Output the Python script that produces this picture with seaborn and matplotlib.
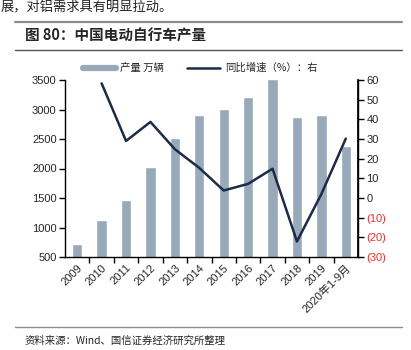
import matplotlib
matplotlib.use("Agg")
import matplotlib.pyplot as plt
from matplotlib.lines import Line2D
import seaborn as sns
import pandas as pd
import numpy as np

years = ["2009", "2010", "2011", "2012", "2013", "2014", "2015", "2016",
         "2017", "2018", "2019", "2020年1-9月"]
output = [720, 1135, 1460, 2030, 2525, 2905, 3005, 3210, 3520, 2865, 2905, 2380]
growth = [np.nan, 58.3, 29.0, 38.7, 24.8, 15.3, 3.8, 7.2, 14.9, -22.1, 2.0, 30.2]
left_ticks = [500, 1000, 1500, 2000, 2500, 3000, 3500]
right_ticks = [-30, -20, -10, 0, 10, 20, 30, 40, 50, 60]

sns.set_theme(style="white")
plt.rcParams['font.family'] = ['Liberation Sans', 'Noto Sans CJK SC', 'DejaVu Sans']

BAR = "#98aab9"
LINE = "#1c2b47"
GRAY = "#8c8c8c"

df = pd.DataFrame({"year": years, "output": output, "growth": growth,
                   "pos": np.arange(len(years))})

fig = plt.figure(figsize=(4.11, 3.5), dpi=100)
ax = fig.add_axes([65/411, 1-257/350, (358-65)/411, (257-80)/350])

sns.barplot(data=df, x="year", y="output", color=BAR, width=0.42,
            saturation=1, ax=ax)
ax.set_ylim(500, 3500)
ax.set_xlim(-0.5, len(years)-0.5)
ax.set_yticks(left_ticks)
ax.set_yticklabels([str(t) for t in left_ticks], fontsize=8)
ax.set_xlabel("")
ax.set_ylabel("")
# category labels at centers, tick marks between categories
ax.set_xticks(np.arange(len(years)))
ax.set_xticklabels(years, rotation=45, ha="right", rotation_mode="anchor",
                   fontsize=8)
ax.tick_params(axis="x", which="major", length=0, pad=4)
ax.set_xticks(np.arange(len(years)-1)+0.5, minor=True)
ax.tick_params(axis="x", which="minor", length=4, width=1, color="black",
               direction="out", bottom=True)
ax.tick_params(axis="y", length=4, width=1, color="black", direction="out",
               left=True, pad=2)
ax.spines["top"].set_visible(False)
for s in ["left", "bottom", "right"]:
    ax.spines[s].set_color("black")
    ax.spines[s].set_linewidth(1)

ax2 = ax.twinx()
sns.lineplot(data=df, x="pos", y="growth", color=LINE, linewidth=1.8,
             ax=ax2, sort=False)
ax2.set_ylim(-30, 60)
ax2.set_xlim(-0.5, len(years)-0.5)
ax2.set_yticks(right_ticks)
labs = [f"({abs(t)})" if t < 0 else str(t) for t in right_ticks]
ax2.set_yticklabels(labs, fontsize=8)
for lab, t in zip(ax2.get_yticklabels(), right_ticks):
    if t < 0:
        lab.set_color("#e8302a")
ax2.tick_params(axis="y", length=4, width=1, color="black", direction="out",
                right=True, pad=2)
ax2.set_xlabel("")
ax2.set_ylabel("")
ax2.spines["top"].set_visible(False)
ax2.spines["right"].set_color("black")
ax2.spines["left"].set_visible(False)
ax2.spines["bottom"].set_visible(False)

handles = [Line2D([], [], color=BAR, lw=4.5),
           Line2D([], [], color=LINE, lw=1.8)]
fig.legend(handles, ["产量 万辆", "同比增速（%）：右"],
           loc="center", bbox_to_anchor=(200/411, 1-68/350), ncol=2,
           frameon=False, handlelength=3.2, columnspacing=2.2,
           handletextpad=0.4, prop={"family": ["Noto Sans CJK SC"], "size": 7.5})

# header / footer decorations
fig.text(1/411, 1-1/350, "展，对铝需求具有明显拉动。", fontsize=9.5,
         family=["Noto Sans CJK SC"], va="top", ha="left", color="#222222")
fig.add_artist(Line2D([15/411, 402/411], [1-22/350, 1-22/350],
                      color=GRAY, lw=1.6, transform=fig.transFigure))
fig.add_artist(Line2D([15/411, 402/411], [1-50/350, 1-50/350],
                      color="#555555", lw=1.0, transform=fig.transFigure))
fig.add_artist(Line2D([15/411, 402/411], [1-327/350, 1-327/350],
                      color=GRAY, lw=1.0, transform=fig.transFigure))
fig.text(25/411, 1-36/350, "图 80：中国电动自行车产量", fontsize=10.5,
         fontweight="bold", family=["Noto Sans CJK SC"], va="center",
         ha="left")
fig.text(25/411, 1-341/350, "资料来源：Wind、国信证券经济研究所整理",
         fontsize=7.5, family=["Noto Sans CJK SC"], va="center", ha="left")

fig.savefig("out.png", dpi=100)
